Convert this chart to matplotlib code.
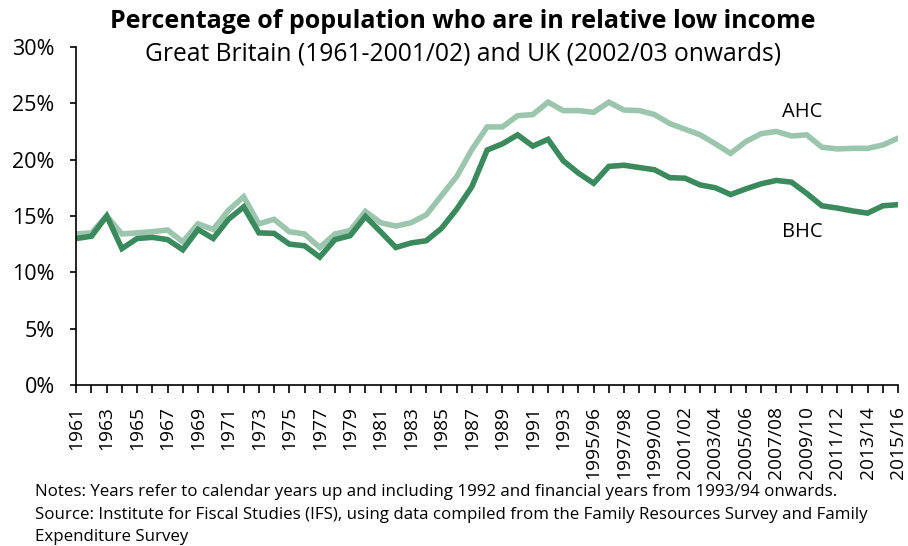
import numpy as np
import matplotlib
matplotlib.use("Agg")
import matplotlib.pyplot as plt
from matplotlib.ticker import FuncFormatter

plt.rcParams['font.family'] = ['Open Sans', 'DejaVu Sans']

# Años: calendario hasta 1992, años fiscales desde 1993/94
years = [str(y) for y in range(1961, 1994)] + \
        ["%d/%02d" % (y, (y + 1) % 100) for y in range(1994, 2016)]

# Porcentaje de poblacion en bajos ingresos relativos
bhc = [13.0, 13.2, 15.0, 12.1, 13.0, 13.1, 12.9, 12.0, 13.8, 13.0,
       14.7, 15.8, 13.5, 13.45, 12.5, 12.35, 11.35, 12.9, 13.25, 14.95,
       13.6, 12.2, 12.6, 12.8, 13.9, 15.6, 17.6, 20.85, 21.4, 22.2,
       21.2, 21.8, 19.9, 18.8, 17.9, 19.4, 19.5, 19.3, 19.1, 18.4,
       18.35, 17.75, 17.5, 16.9, 17.4, 17.85, 18.15, 18.0, 17.0, 15.9,
       15.7, 15.45, 15.25, 15.9, 16.0]
ahc = [13.4, 13.5, 15.0, 13.4, 13.5, 13.6, 13.75, 12.7, 14.3, 13.8,
       15.5, 16.7, 14.3, 14.7, 13.6, 13.4, 12.2, 13.4, 13.7, 15.4,
       14.4, 14.1, 14.4, 15.1, 16.8, 18.5, 20.9, 22.9, 22.9, 23.9,
       24.0, 25.1, 24.35, 24.35, 24.2, 25.1, 24.4, 24.35, 24.0, 23.2,
       22.7, 22.2, 21.4, 20.55, 21.6, 22.3, 22.5, 22.1, 22.2, 21.1,
       20.95, 21.0, 21.0, 21.3, 21.9]

dark = "#3a8a5d"
light = "#9cc5ae"

fig = plt.figure(figsize=(9.08, 5.46), dpi=100)
ax = fig.add_axes([0.084, 0.295, 0.905, 0.619])

x = np.arange(len(years))
ax.plot(x, ahc, color=light, lw=4, solid_joinstyle="miter")
ax.plot(x, bhc, color=dark, lw=4, solid_joinstyle="miter")

ax.set_xlim(0, len(years) - 1)
ax.set_ylim(0, 30)
ax.set_yticks(np.arange(0, 31, 5))
ax.yaxis.set_major_formatter(FuncFormatter(lambda v, p: "%d%%" % v))
ax.set_xticks(x)
ax.set_xticklabels([y if i % 2 == 0 else "" for i, y in enumerate(years)],
                   rotation=90, fontsize=13.8)
ax.tick_params(axis="y", labelsize=15.5, length=4.5, width=1.2, pad=11)
ax.tick_params(axis="x", length=6, width=1.2, pad=9)

for s in ["top", "right"]:
    ax.spines[s].set_visible(False)
for s in ["left", "bottom"]:
    ax.spines[s].set_linewidth(1.2)

ax.text(47.7, 24.2, "AHC", fontsize=14.5, ha="center", va="center")
ax.text(47.7, 13.6, "BHC", fontsize=14.5, ha="center", va="center")

fig.text(0.51, 0.96, "Percentage of population who are in relative low income",
         fontsize=18, fontweight="bold", ha="center", va="center")
fig.text(0.51, 0.902, "Great Britain (1961-2001/02) and UK (2002/03 onwards)",
         fontsize=17.7, ha="center", va="center")

fig.text(0.038, 0.098, "Notes: Years refer to calendar years up and including 1992 and financial years from 1993/94 onwards.",
         fontsize=12.2, va="center")
fig.text(0.038, 0.057, "Source: Institute for Fiscal Studies (IFS), using data compiled from the Family Resources Survey and Family",
         fontsize=12.2, va="center")
fig.text(0.038, 0.017, "Expenditure Survey", fontsize=12.2, va="center")

fig.savefig("out.png", dpi=100)
